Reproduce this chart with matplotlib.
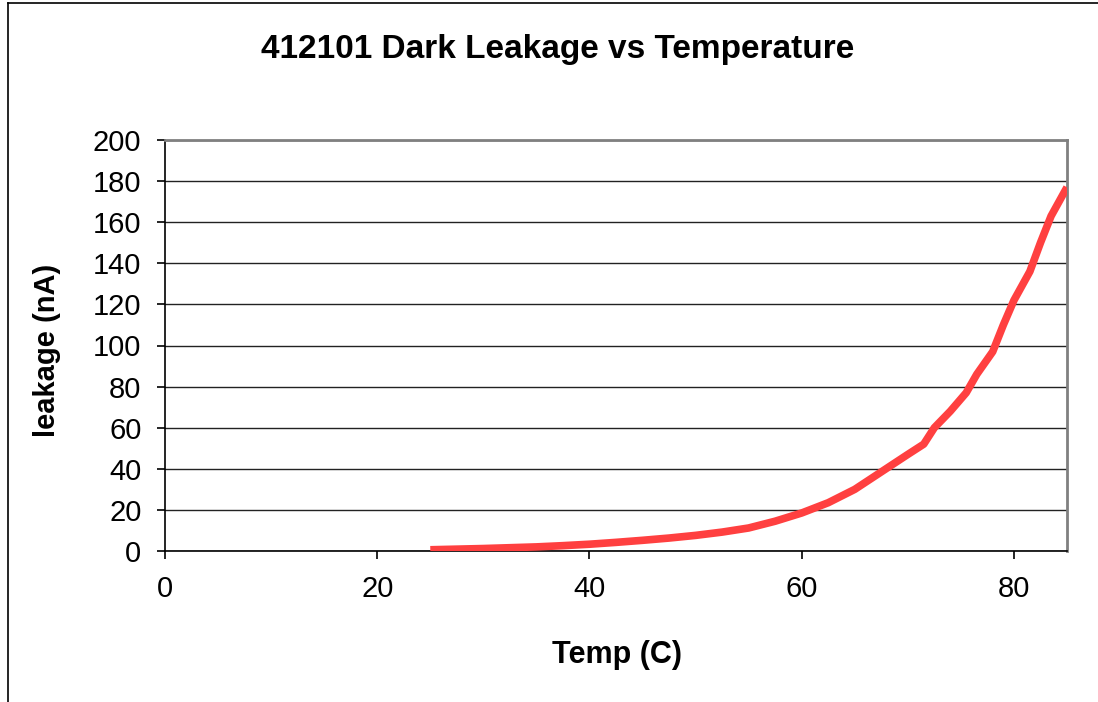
import matplotlib
matplotlib.use("Agg")
import matplotlib.pyplot as plt
from matplotlib.lines import Line2D

# data
temp_c = [25, 27.5, 30, 32.5, 35, 37.5, 40, 42.5, 45, 47.5, 50, 52.5, 55, 57.5,
          60, 62.5, 65, 67.5, 70, 71.5, 72.5, 74, 75.5, 76.5, 78, 79, 80, 81.5,
          82.5, 83.5, 85]
leak_na = [0.6, 0.9, 1.2, 1.6, 2.0, 2.6, 3.3, 4.2, 5.2, 6.3, 7.6, 9.2, 11.2, 14.5,
           18.5, 23.5, 30, 38.5, 47, 52, 60, 68, 77, 86, 97, 110, 122, 136,
           150, 163, 177]
x_ticks = [0, 20, 40, 60, 80]
y_ticks = list(range(0, 201, 20))

plt.rcParams['font.family'] = ['Liberation Sans', 'DejaVu Sans']

fig = plt.figure(figsize=(10.98, 7.02), dpi=100)
ax = fig.add_axes([165 / 1098, 1 - 551 / 702, (1067 - 165) / 1098, (551 - 140) / 702])

ax.plot(temp_c, leak_na, color='#ff4040', lw=5.5, solid_capstyle='butt', zorder=3)

ax.set_xlim(0, 85)
ax.set_ylim(0, 200)
ax.set_xticks(x_ticks)
ax.set_yticks(y_ticks)
ax.tick_params(axis='both', direction='out', length=6, width=1.2, labelsize=21, pad=11)
ax.yaxis.grid(True, color='#222222', lw=1.0)
ax.set_axisbelow(True)

for side in ['top', 'right']:
    ax.spines[side].set_color('#808080')
    ax.spines[side].set_linewidth(2)
for side in ['left', 'bottom']:
    ax.spines[side].set_color('black')
    ax.spines[side].set_linewidth(1.2)

fig.text(0.508, 0.929, '412101 Dark Leakage vs Temperature', ha='center', va='center',
         fontsize=24, fontweight='bold')
fig.text(0.562, 0.067, 'Temp (C)', ha='center', va='center', fontsize=22, fontweight='bold')
fig.text(0.043, 0.501, 'leakage (nA)', ha='center', va='center', rotation=90,
         fontsize=21, fontweight='bold')

# chart area border (only top and left edges are in frame)
fig.add_artist(Line2D([8 / 1098, 1], [1 - 3 / 702, 1 - 3 / 702], color='black', lw=1.2))
fig.add_artist(Line2D([8 / 1098, 8 / 1098], [0, 1 - 3 / 702], color='black', lw=1.2))

fig.savefig('out.png', dpi=100, facecolor='white')
